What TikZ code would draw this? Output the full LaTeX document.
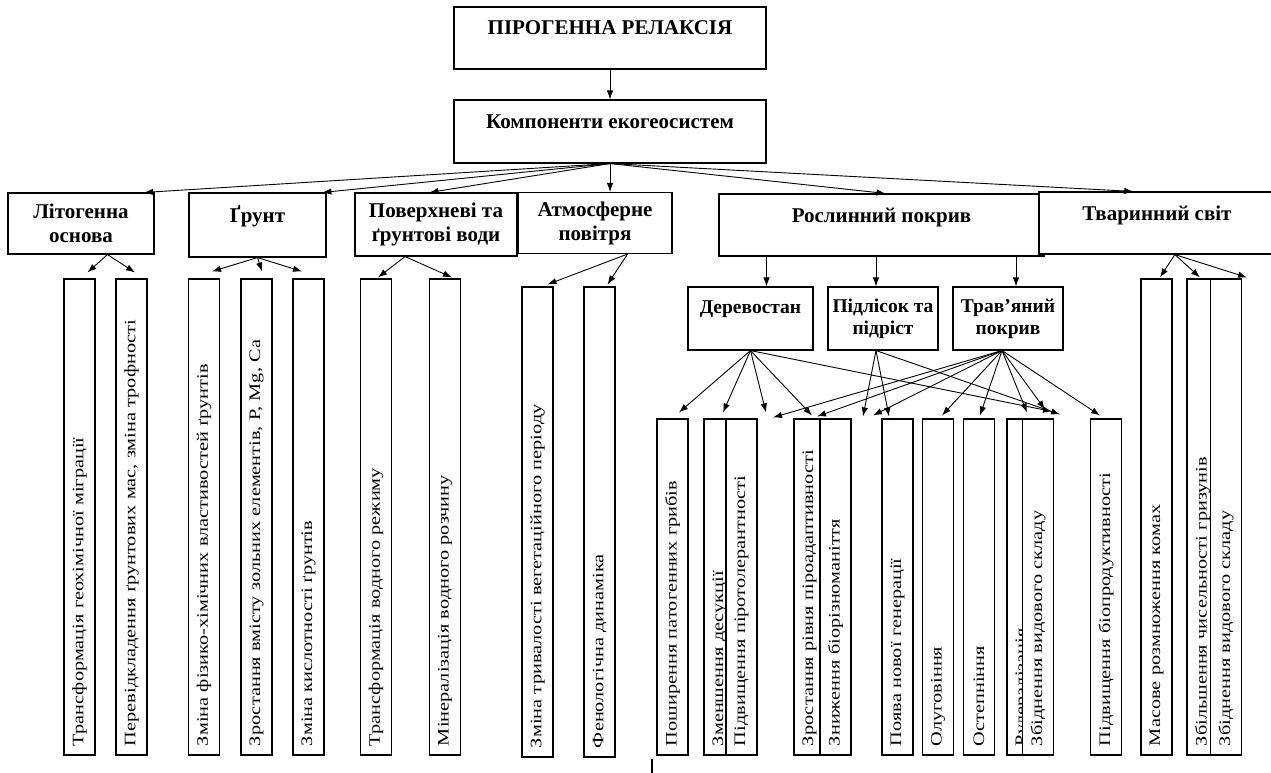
\documentclass[tikz,border=0pt]{standalone}
\usepackage{fontspec}
\setmainfont{Liberation Serif}
\newfontfamily\stretchfont[FakeStretch=1.27]{Liberation Serif}
\usetikzlibrary{arrows.meta,calc}

\begin{document}
\begin{tikzpicture}[x=1pt,y=-1pt,
  >={Latex[length=9pt,width=6.5pt]},
  box/.style={draw, line width=1.1pt, fill=white, inner sep=2pt, align=center,
    font=\fontsize{21}{24}\selectfont\bfseries},
  topline/.style={text height=14pt, text depth=20pt},
  sub/.style={box, font=\fontsize{19.5}{22}\selectfont\bfseries},
  tall/.style={draw, line width=1.1pt, fill=white, rotate=90, minimum height=31pt,
    inner xsep=9pt, inner ysep=0pt, align=left, font=\fontsize{16}{16}\stretchfont},
  link/.style={->, line width=0.9pt}]
\useasboundingbox (0,0) rectangle (1271,773);

% upper levels
\node[box, topline, minimum width=312pt, minimum height=62pt] (pir) at (610,38) {ПІРОГЕННА РЕЛАКСІЯ};
\node[box, topline, minimum width=312pt, minimum height=63pt] (komp) at (610,131.5) {Компоненти екогеосистем};

\node[box, minimum width=146pt, minimum height=61pt] (lito) at (81,223.5) {Літогенна\\основа};
\node[box, topline, minimum width=137pt, minimum height=64pt] (grunt) at (257.5,225) {Ґрунт};
\node[box, minimum width=162pt, minimum height=63pt] (vody) at (436,224.5) {Поверхневі та\\ґрунтові води};
\node[box, minimum width=154pt, minimum height=61pt] (atm) at (595,223) {Атмосферне\\повітря};
\node[box, topline, minimum width=325pt, minimum height=62pt] (roslyn) at (881.5,225) {Рослинний покрив};
\node[box, topline, minimum width=236pt, minimum height=62pt] (tvar) at (1157,223) {Тваринний світ};

\node[sub, text height=12pt, text depth=22pt, minimum width=125pt, minimum height=63pt] (der) at (750.5,318.5) {Деревостан};
\node[sub, minimum width=110pt, minimum height=63pt] (pid) at (883,318.5) {Підлісок та\\підріст};
\node[sub, minimum width=110pt, minimum height=63pt] (trav) at (1008,318.5) {Трав’яний\\покрив};

% vertical boxes
\foreach \nm/\cx/\txt in {L1/79.5/{Трансформація геохімічної міграції},
    L2/131.5/{Перевідкладення ґрунтових мас, зміна трофності},
    G1/204/{Зміна фізико-хімічних властивостей ґрунтів},
    G2/256.5/{Зростання вмісту зольних елементів, P, Mg, Ca},
    G3/308.5/{Зміна кислотності ґрунтів},
    W1/376/{Трансформація водного режиму},
    W2/445/{Мінералізація водного розчину},
    Z1/1156.5/{Масове розмноження комах},
    Z2/1202.5/{Збільшення чисельності гризунів},
    Z3/1226/{Збіднення видового складу}}
  \node[tall, minimum width=476pt, text width=458pt] (\nm) at (\cx,517) {\txt};

\foreach \nm/\cx/\txt in {A1/537.5/{Зміна тривалості вегетаційного періоду},
    A2/599.5/{Фенологічна динаміка}}
  \node[tall, minimum width=470pt, text width=452pt] (\nm) at (\cx,522) {\txt};

\foreach \nm/\cx/\txt in {P1/672.5/{Поширення патогенних грибів},
    P2/719.5/{Зменшення десукції},
    P3/741.5/{Підвищення піротолерантності},
    P4/809.5/{Зростання рівня піроадаптивності},
    P5/835.5/{Зниження біорізноманіття},
    P6/897.5/{Поява нової генерації},
    P7/938/{Олуговіння},
    P8/979/{Остепніння},
    P9/1022.5/{Рудералізація},
    P10/1038/{Збіднення видового складу},
    P11/1106/{Підвищення біопродуктивності}}
  \node[tall, minimum width=336pt, text width=318pt] (\nm) at (\cx,587) {\txt};

% arrows from the top
\draw[link] (pir) -- (komp);
\draw[link] (komp.south) -- ($(lito.north west)!.93!(lito.north east)$);
\draw[link] (komp.south) -- ($(grunt.north west)!.97!(grunt.north east)$);
\draw[link] (komp.south) -- ($(vody.north west)!.46!(vody.north east)$);
\draw[link] (komp.south) -- (komp.south |- atm.north);
\draw[link] (komp.south) -- ([xshift=4pt]roslyn.north);
\draw[link] (komp.south) -- ($(tvar.north west)!.4!(tvar.north east)$);

% second level
\coordinate (lo) at ($(lito.south west)!.68!(lito.south east)$);
\draw[link] (lo) -- ([xshift=8pt,yshift=6pt]L1.east);
\draw[link] (lo) -- ([xshift=3.5pt,yshift=6pt]L2.east);
\draw[link] (grunt.south) -- ([xshift=8pt,yshift=7pt]G1.east);
\draw[link] (grunt.south) -- ([xshift=5.5pt,yshift=7pt]G2.east);
\draw[link] (grunt.south) -- ([xshift=-6.5pt,yshift=7pt]G3.east);
\coordinate (vo) at ($(vody.south west)!.31!(vody.south east)$);
\draw[link] (vo) -- ([xshift=2pt,yshift=1pt]W1.east);
\draw[link] (vo) -- ([xshift=7pt,yshift=1pt]W2.east);
\coordinate (ao) at ($(atm.south west)!.71!(atm.south east)$);
\draw[link] (ao) -- ([xshift=10pt,yshift=2pt]A1.east);
\draw[link] (ao) -- ([xshift=8pt,yshift=2pt]A2.east);
\coordinate (zo) at ($(tvar.south west)!.575!(tvar.south east)$);
\draw[link] (zo) -- ([xshift=3.5pt,yshift=1pt]Z1.east);
\draw[link] (zo) -- ([xshift=-2.5pt,yshift=1pt]Z2.east);
\draw[link] (zo) -- ([xshift=21pt,yshift=1pt]Z3.east);

% vegetation
\coordinate (d1) at ([xshift=16pt]der.north);
\coordinate (d2) at ([xshift=-7pt]pid.north);
\coordinate (d3) at ([xshift=8pt]trav.north);
\foreach \c in {d1,d2,d3}
  \draw[link] (roslyn.south -| \c) -- (\c);

\draw[link] (der.south) -- ([xshift=6.5pt,yshift=6pt]P1.east);
\draw[link] (der.south) -- ([xshift=3.5pt,yshift=6pt]P2.east);
\draw[link] (der.south) -- ([xshift=24.5pt,yshift=6pt]P3.east);
\draw[link] (der.south) -- ([xshift=2.5pt,yshift=3pt]P4.east);
\draw[link] (der.south) -- ([xshift=14pt,yshift=7pt]P10.east);

\coordinate (po) at ([xshift=-7pt]pid.south);
\draw[link] (po) -- ([xshift=27.5pt,yshift=2pt]P5.east);
\draw[link] (po) -- ([xshift=-8.5pt,yshift=2pt]P6.east);
\draw[link] (po) -- ([xshift=22pt,yshift=4pt]P10.east);

\coordinate (to) at ([xshift=-6pt]trav.south);
\draw[link] (to) -- ([xshift=31.5pt,yshift=1pt]P3.east);
\draw[link] (to) -- ([xshift=-18.5pt,yshift=2pt]P5.east);
\draw[link] (to) -- ([xshift=-24.5pt,yshift=3pt]P6.east);
\draw[link] (to) -- ([xshift=4pt,yshift=3pt]P7.east);
\draw[link] (to) -- ([xshift=1pt,yshift=3pt]P8.east);
\draw[link] (to) -- ([xshift=4.5pt,yshift=6pt]P9.east);
\draw[link] (to) -- ([xshift=7pt,yshift=9pt]P10.east);
\draw[link] (to) -- ([xshift=-6pt,yshift=3pt]P11.east);

\draw[line width=2.5pt] (652,759) -- (652,773);
\end{tikzpicture}
\end{document}
